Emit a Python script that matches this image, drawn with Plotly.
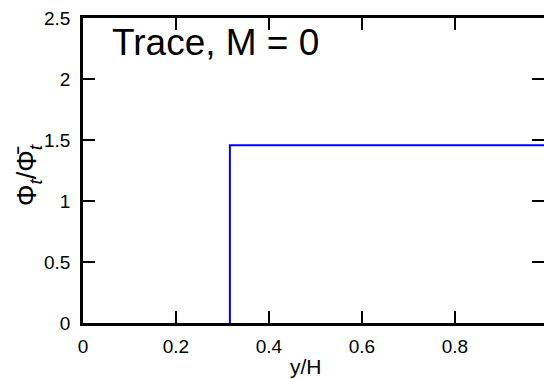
import plotly.graph_objects as go

# data
y_over_H = [0.316, 0.316, 1.0]
phi_ratio = [0.0, 1.456, 1.456]
x_ticks = [0, 0.2, 0.4, 0.6, 0.8, 1.0]
x_tick_labels = ["0", "0.2", "0.4", "0.6", "0.8", "1"]
y_ticks = [0, 0.5, 1, 1.5, 2, 2.5]
y_tick_labels = ["0", "0.5", "1", "1.5", "2", "2.5"]

font = "Liberation Sans, Arial, sans-serif"

L, T, B, W, H = 83, 18, 56, 544, 379
PW, PH = W - L, H - T - B


def px(xp):
    return (xp - L) / PW


def py(yp):
    return (H - B - yp) / PH


fig = go.Figure()
fig.add_trace(go.Scatter(x=y_over_H, y=phi_ratio, mode="lines",
                         line=dict(color="#0000ff", width=2), showlegend=False))
# invisible trace for right axis ticks
fig.add_trace(go.Scatter(x=[0], y=[0], yaxis="y2", mode="markers",
                         marker=dict(opacity=0), showlegend=False, hoverinfo="skip"))

fig.update_layout(
    width=W, height=H,
    margin=dict(l=L, r=0, t=T, b=B),
    paper_bgcolor="white", plot_bgcolor="white",
    font=dict(family=font, size=19, color="black"),
    xaxis=dict(range=[0, 0.9918], tickvals=x_ticks, ticktext=x_tick_labels,
               ticks="inside", ticklen=12, tickwidth=2, tickcolor="black",
               showline=True, linewidth=2.5, linecolor="black", mirror="ticks",
               showgrid=False, zeroline=False,
               tickfont=dict(size=19), ticklabelstandoff=4),
    yaxis=dict(range=[0, 2.5], tickvals=y_ticks, ticktext=y_tick_labels,
               ticks="inside", ticklen=12, tickwidth=2, tickcolor="black",
               showline=True, linewidth=2.5, linecolor="black",
               showgrid=False, zeroline=False,
               tickfont=dict(size=19), ticklabelstandoff=6),
    yaxis2=dict(range=[0, 2.5], overlaying="y", side="right", tickvals=y_ticks,
                ticks="inside", ticklen=12, tickwidth=2, tickcolor="black",
                showticklabels=False, showline=False, showgrid=False, zeroline=False),
    annotations=[
        dict(text="Trace, M = 0", x=px(110), y=py(42),
             xref="paper", yref="paper", xanchor="left", yanchor="middle",
             showarrow=False, font=dict(size=37)),
        dict(text="y/H", x=px(306), y=py(366),
             xref="paper", yref="paper", xanchor="center", yanchor="middle",
             showarrow=False, font=dict(size=21)),
        dict(text="Φ<sub><i>t</i></sub>/Φ\u0304<sub><i>t</i></sub>", x=px(29), y=py(175),
             xref="paper", yref="paper", xanchor="center", yanchor="middle",
             textangle=-90, showarrow=False, font=dict(size=27)),
    ],
)

fig.write_html("out.html")
